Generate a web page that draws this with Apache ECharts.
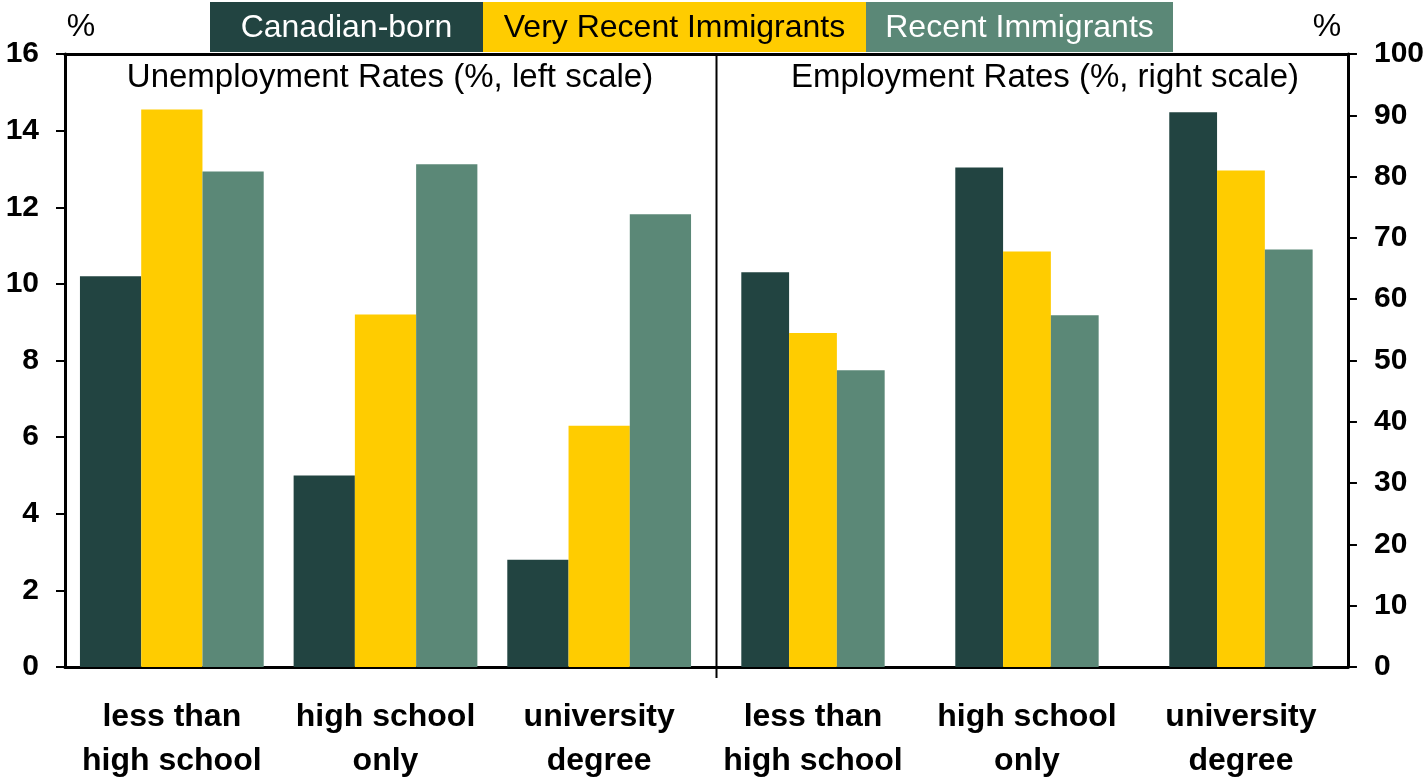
<!DOCTYPE html>
<html>
<head>
<meta charset="utf-8">
<script src="https://cdn.jsdelivr.net/npm/echarts@6/dist/echarts.min.js"></script>
<style>
html,body{margin:0;padding:0;background:#fff;}
#chart{width:1427px;height:783px;}
</style>
</head>
<body>
<div id="chart"></div>
<script>
// ---- data ----
const categories = ['less than\nhigh school', 'high school\nonly', 'university\ndegree'];
const seriesNames = ['Canadian-born', 'Very Recent Immigrants', 'Recent Immigrants'];
// Unemployment rates (%, left scale)
const unempCanadianBorn = [10.2, 5.0, 2.8];
const unempVeryRecent = [14.55, 9.2, 6.3];
const unempRecent = [12.93, 13.12, 11.82];
// Employment rates (%, right scale)
const empCanadianBorn = [64.4, 81.5, 90.5];
const empVeryRecent = [54.5, 67.8, 81.0];
const empRecent = [48.4, 57.4, 68.1];
const leftTicks = {min: 0, max: 16, interval: 2};
const rightTicks = {min: 0, max: 100, interval: 10};
const panelTitles = ['Unemployment Rates (%, left scale)', 'Employment Rates (%, right scale)'];

// ---- style ----
const colors = ['#224441', '#FFCC00', '#5B8877'];
const legendText = ['#ffffff', '#000000', '#ffffff'];
const FONT = "'Liberation Sans', Arial, sans-serif";

const chart = echarts.init(document.getElementById('chart'), null, {renderer: 'canvas'});

function catAxis(grid, pos) {
  const top = pos === 'top';
  return {
    type: 'category', gridIndex: grid, position: pos, data: categories,
    axisLine: {show: true, lineStyle: {color: '#000', width: 3}},
    axisTick: {show: false},
    axisLabel: top ? {show: false} : {
      show: true, margin: 28, interval: 0,
      fontFamily: FONT, fontSize: 32, fontWeight: 'bold', color: '#000', lineHeight: 44
    },
    splitLine: {show: false}
  };
}
function valAxis(grid, pos, t) {
  return {
    type: 'value', gridIndex: grid, position: pos, min: t.min, max: t.max, interval: t.interval,
    axisLine: {show: true, lineStyle: {color: '#000', width: 3}},
    axisTick: {show: true, inside: false, length: 9, lineStyle: {color: '#000', width: 2}},
    axisLabel: {margin: 26, fontFamily: FONT, fontSize: 30, fontWeight: 'bold', color: '#000'},
    splitLine: {show: false}
  };
}
function bars(name, data, idx, axisIdx, gap) {
  return {
    type: 'bar', name: name, data: data, xAxisIndex: axisIdx, yAxisIndex: axisIdx,
    barGap: '0%', barCategoryGap: gap, itemStyle: {color: colors[idx]},
    emphasis: {disabled: true}, animation: false
  };
}

const legendBoxes = [[210, 2, 273, 50], [483, 2, 383, 50], [866, 2, 307, 50]];
const graphics = [];
seriesNames.forEach((n, i) => {
  const b = legendBoxes[i];
  graphics.push({
    type: 'rect', shape: {x: b[0], y: b[1], width: b[2], height: b[3]},
    style: {fill: colors[i]}, z: 10
  });
  graphics.push({
    type: 'text', x: b[0] + b[2] / 2, y: b[1] + b[3] / 2 + 1, z: 11,
    style: {text: n, fill: legendText[i], font: '32px ' + FONT, textAlign: 'center', textVerticalAlign: 'middle'}
  });
});
graphics.push({type: 'text', x: 81, y: 27, style: {text: '%', fill: '#000', font: '32px ' + FONT, textAlign: 'center', textVerticalAlign: 'middle'}});
graphics.push({type: 'text', x: 1327, y: 27, style: {text: '%', fill: '#000', font: '32px ' + FONT, textAlign: 'center', textVerticalAlign: 'middle'}});
graphics.push({type: 'text', x: 390, y: 78, style: {text: panelTitles[0], fill: '#000', font: '33px ' + FONT, textAlign: 'center', textVerticalAlign: 'middle'}});
graphics.push({type: 'text', x: 1045, y: 78, style: {text: panelTitles[1], fill: '#000', font: '33px ' + FONT, textAlign: 'center', textVerticalAlign: 'middle'}});
graphics.push({type: 'line', shape: {x1: 716.5, y1: 54, x2: 716.5, y2: 678}, style: {stroke: '#000', lineWidth: 2}, z: 5});

chart.setOption({
  animation: false,
  backgroundColor: '#ffffff',
  grid: [
    {left: 65, top: 54, width: 641, height: 619, containLabel: false},
    {left: 706, top: 54, width: 642, height: 619, containLabel: false}
  ],
  xAxis: [catAxis(0, 'bottom'), catAxis(1, 'bottom'), catAxis(0, 'top'), catAxis(1, 'top')],
  yAxis: [valAxis(0, 'left', leftTicks), valAxis(1, 'right', rightTicks)],
  series: [
    bars(seriesNames[0], unempCanadianBorn, 0, 0, '14%'),
    bars(seriesNames[1], unempVeryRecent, 1, 0, '14%'),
    bars(seriesNames[2], unempRecent, 2, 0, '14%'),
    bars(seriesNames[0], empCanadianBorn, 0, 1, '33%'),
    bars(seriesNames[1], empVeryRecent, 1, 1, '33%'),
    bars(seriesNames[2], empRecent, 2, 1, '33%')
  ],
  graphic: graphics
});
</script>
</body>
</html>
